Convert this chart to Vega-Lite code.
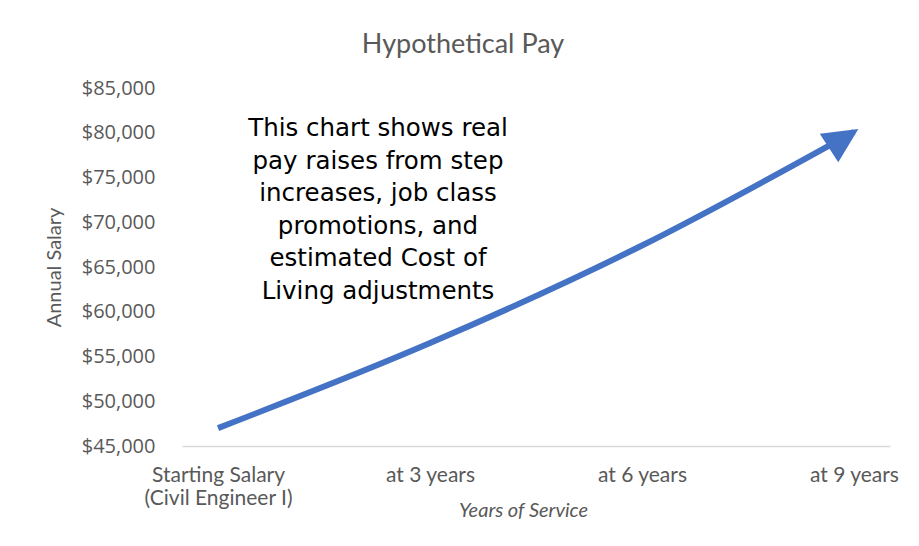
{
  "$schema": "https://vega.github.io/schema/vega-lite/v6.json",
  "width": 708,
  "height": 358,
  "autosize": {"type": "none"},
  "padding": {"left": 182, "top": 88, "right": 29, "bottom": 100},
  "background": "white",
  "config": {"view": {"stroke": null}, "font": "Lato"},
  "title": {
    "text": "Hypothetical Pay",
    "fontSize": 27,
    "fontWeight": "normal",
    "color": "#595959",
    "font": "Lato",
    "anchor": "middle",
    "dx": -73,
    "offset": 19
  },
  "data": {
    "values": [
      {"stage": "Starting Salary", "salary": 47000},
      {"stage": "at 3 years", "salary": 56500},
      {"stage": "at 6 years", "salary": 67400},
      {"stage": "at 9 years", "salary": 80100}
    ]
  },
  "encoding": {
    "x": {
      "field": "stage",
      "type": "ordinal",
      "scale": {
        "type": "point",
        "padding": 0.17,
        "domain": ["Starting Salary", "at 3 years", "at 6 years", "at 9 years"]
      },
      "axis": {
        "title": "Years of Service",
        "titleFont": "Lato",
        "titleFontStyle": "italic",
        "titleFontWeight": "normal",
        "titleFontSize": 20,
        "titleColor": "#595959",
        "titleX": 341,
        "titleY": 64,
        "titleBaseline": "middle",
        "labelAngle": 0,
        "labelFont": "Lato",
        "labelFontSize": 21,
        "labelColor": "#595959",
        "labelPadding": 18,
        "labelLineHeight": 23,
        "labelExpr": "datum.value == 'Starting Salary' ? ['Starting Salary', '(Civil Engineer I)'] : datum.label",
        "domainColor": "#d9d9d9",
        "domainWidth": 1.5,
        "ticks": false,
        "grid": false
      }
    },
    "y": {
      "field": "salary",
      "type": "quantitative",
      "scale": {"domain": [45000, 85000], "nice": false, "zero": false},
      "axis": {
        "title": "Annual Salary",
        "titleFont": "Lato",
        "titleFontSize": 20,
        "titleFontWeight": "normal",
        "titleColor": "#595959",
        "titlePadding": 17,
        "values": [45000, 50000, 55000, 60000, 65000, 70000, 75000, 80000, 85000],
        "format": "$,.0f",
        "labelFont": "Open Sans",
        "labelFontSize": 20,
        "labelColor": "#595959",
        "labelPadding": 27,
        "grid": false,
        "domain": false,
        "ticks": false
      }
    }
  },
  "layer": [
    {
      "mark": {"type": "line", "color": "#4472C4", "strokeWidth": 6, "interpolate": "monotone"}
    },
    {
      "transform": [{"filter": "datum.stage == 'at 9 years'"}],
      "mark": {
        "type": "point",
        "shape": "M0,-0.3L0.97,1.7L-0.97,1.7Z",
        "size": 1225,
        "angle": 57,
        "filled": true,
        "opacity": 1,
        "strokeWidth": 0,
        "color": "#4472C4"
      }
    },
    {
      "data": {
        "values": [
          {"stage": "at 3 years", "salary": 80400, "note": "This chart shows real|pay raises from step|increases, job class|promotions, and|estimated Cost of|Living adjustments"}
        ]
      },
      "mark": {
        "type": "text",
        "lineBreak": "|",
        "font": "DejaVu Sans",
        "fontSize": 24.5,
        "lineHeight": 32.5,
        "align": "center",
        "baseline": "middle",
        "dx": -52,
        "color": "#000000"
      },
      "encoding": {
        "text": {"field": "note", "type": "nominal"}
      }
    }
  ]
}
